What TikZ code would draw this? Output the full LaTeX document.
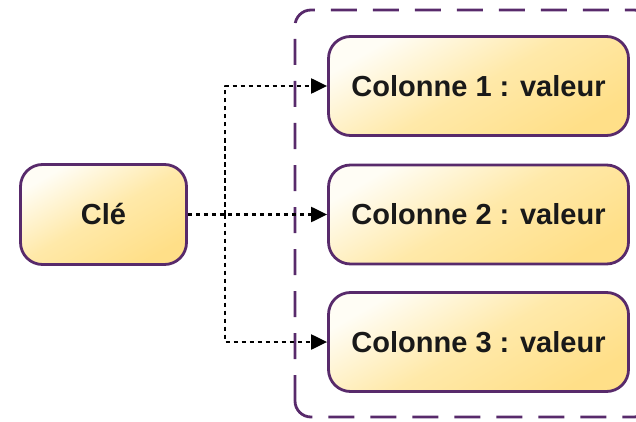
\documentclass[tikz,border=0pt]{standalone}
\usepackage{fontspec}
\setmainfont{Liberation Sans}
\usetikzlibrary{arrows.meta}
\definecolor{cadre}{HTML}{582A6B}
\definecolor{jauneclair}{HTML}{FFFDF5}
\definecolor{jaunemoyen}{HTML}{FFE9A9}
\definecolor{jaune}{HTML}{FFDF88}
\begin{document}
\begin{tikzpicture}[x=1pt,y=1pt,line cap=round,line join=round,
  boite/.style={draw=cadre,line width=2.8pt,rounded corners=22pt,
    top color=jauneclair,bottom color=jaune,middle color=jaunemoyen,shading angle=30,
    inner sep=0pt,text=black!90,
    font=\bfseries\fontsize{29}{34}\selectfont},
  lien/.style={line width=2.2pt,dash pattern=on 4.5pt off 3.5pt,line cap=butt,
    -{Triangle[length=16pt,width=15pt]}}]
\useasboundingbox (0,0) rectangle (636,421);
% le groupe de colonnes
\draw[cadre,line width=2.8pt,line cap=butt,dash pattern=on 26pt off 16pt,
  rounded corners=16pt] (295,4) rectangle (650,411);
\node[boite,minimum width=166pt,minimum height=100pt] (cle) at (103.5,206.5) {Clé};
\node[boite,minimum width=300pt,minimum height=99pt] (col1) at (478.5,335) {Colonne 1 : valeur};
\node[boite,minimum width=300pt,minimum height=99pt] (col2) at (478.5,206.5) {Colonne 2 : valeur};
\node[boite,minimum width=300pt,minimum height=99pt] (col3) at (478.5,79) {Colonne 3 : valeur};
\path (225,206.5) coordinate (tronc);
\draw[lien] (cle.east) -- (col2.west);
\draw[lien] (tronc) |- (col1.west);
\draw[lien] (tronc) |- (col3.west);
\end{tikzpicture}
\end{document}
